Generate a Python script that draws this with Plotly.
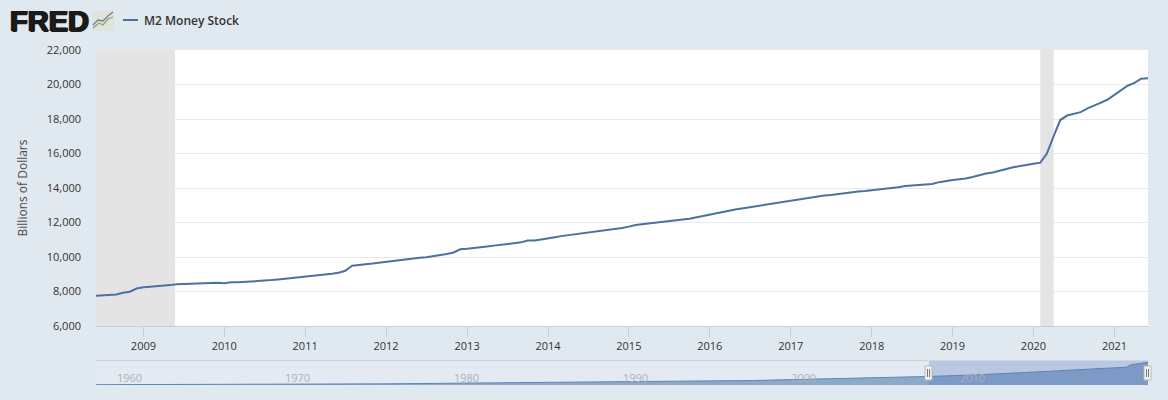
import plotly.graph_objects as go
import pandas as pd

W, H = 1168, 400
SERIES_NAME = "M2 Money Stock"
Y_TITLE = "Billions of Dollars"

m2_2008 = [7750, 7775, 7785, 7830, 7930, 7990, 8170]
m2_2009 = [8250, 8280, 8300, 8350, 8370, 8420, 8440, 8450, 8465, 8510, 8520, 8510]
m2_2010 = [8480, 8530, 8530, 8550, 8600, 8615, 8625, 8660, 8695, 8735, 8765, 8790]
m2_2011 = [8840, 8880, 8930, 8980, 9030, 9090, 9200, 9490, 9550, 9580, 9620, 9670]
m2_2012 = [9740, 9790, 9830, 9880, 9910, 9960, 9990, 10040, 10100, 10170, 10260, 10450]
m2_2013 = [10480, 10510, 10580, 10610, 10660, 10700, 10750, 10800, 10850, 10960, 10950, 11010]
m2_2014 = [11060, 11150, 11210, 11260, 11320, 11380, 11430, 11470, 11510, 11570, 11600, 11680]
m2_2015 = [11760, 11860, 11900, 11940, 11980, 12030, 12080, 12130, 12180, 12220, 12300, 12370]
m2_2016 = [12490, 12560, 12630, 12700, 12770, 12830, 12890, 12960, 13020, 13090, 13150, 13210]
m2_2017 = [13250, 13320, 13400, 13470, 13520, 13560, 13590, 13650, 13700, 13740, 13790, 13820]
m2_2018 = [13860, 13890, 13950, 13990, 14040, 14110, 14150, 14190, 14210, 14230, 14340, 14410]
m2_2019 = [14460, 14510, 14550, 14640, 14760, 14840, 14900, 14980, 15100, 15200, 15280, 15350]
m2_2020 = [15400, 15470, 15980, 17000, 17940, 18200, 18300, 18400, 18620, 18770, 18950, 19130]
m2_2021 = [19400, 19680, 19930, 20090, 20340, 20360]

# January readings of the long history shown in the navigator strip
nav_years = list(range(1959, 2008))
nav_values = [287, 298, 312, 335, 363, 393, 425, 459, 481, 525, 567, 587, 628, 710, 802, 856, 908,
              1024, 1152, 1270, 1367, 1480, 1600, 1765, 1910, 2127, 2310, 2497, 2735, 2832, 2993,
              3160, 3280, 3380, 3410, 3450, 3490, 3640, 3830, 4040, 4380, 4660, 4940, 5460, 5800,
              6060, 6410, 6680, 7070]
nav_2008_head = [7470, 7520, 7570, 7630, 7690]

y_ticks = [6000, 8000, 10000, 12000, 14000, 16000, 18000, 20000, 22000]
x_tick_years = list(range(2009, 2022))
nav_tick_years = [1960, 1970, 1980, 1990, 2000, 2010]
recessions = [("2007-12-01", "2009-05-24"), ("2020-02-01", "2020-04-01")]

m2 = (m2_2008 + m2_2009 + m2_2010 + m2_2011 + m2_2012 + m2_2013 + m2_2014 + m2_2015 +
      m2_2016 + m2_2017 + m2_2018 + m2_2019 + m2_2020 + m2_2021)
dates = pd.date_range("2008-06-01", periods=len(m2), freq="MS")
start, end = dates[0], dates[-1]
nav_dates = ([f"{y}-01-01" for y in nav_years] +
             [d.strftime("%Y-%m-%d") for d in pd.date_range("2008-01-01", "2008-05-01", freq="MS")] +
             [d.strftime("%Y-%m-%d") for d in dates])
nav_y = nav_values + nav_2008_head + m2

BG = "#e1e9f0"
LINE = "#4a719f"
px = lambda x: x / W
py = lambda y: 1 - y / H
DOM_X = [px(96), px(1148)]

fig = go.Figure()
fig.add_trace(go.Scatter(x=dates, y=m2, mode="lines", name=SERIES_NAME,
                         line=dict(color=LINE, width=2), showlegend=False,
                         xaxis="x", yaxis="y"))
fig.add_trace(go.Scatter(x=nav_dates, y=nav_y, mode="lines", fill="tozeroy", name=SERIES_NAME + " (navigator)",
                         fillcolor="rgba(69,114,167,0.55)", line=dict(color="#5f86b4", width=1),
                         showlegend=False, xaxis="x2", yaxis="y2", hoverinfo="skip"))

font = "Open Sans, Noto Sans, sans-serif"
fig.update_layout(
    width=W, height=H, autosize=False,
    margin=dict(l=0, r=0, t=0, b=0, autoexpand=False),
    paper_bgcolor=BG, plot_bgcolor="#ffffff",
    font=dict(family=font, size=11, color="#333333"),
    showlegend=False,
    xaxis=dict(domain=DOM_X, range=[start, end], type="date",
               tickvals=[f"{y}-01-01" for y in x_tick_years], ticktext=[str(y) for y in x_tick_years],
               showgrid=False, zeroline=False, ticks="outside", ticklen=10, tickcolor="#c0d0e0",
               tickwidth=1, showline=True, linecolor="#c0d0e0", linewidth=1, anchor="y",
               tickfont=dict(size=11, color="#333333")),
    yaxis=dict(domain=[py(326), py(50)], range=[6000, 22000], tickvals=y_ticks,
               tickformat=",d", showgrid=True, gridcolor="#e9e9e9", gridwidth=1, zeroline=False,
               ticks="", showline=False, anchor="x", ticklabelstandoff=14,
               title=dict(text=Y_TITLE, font=dict(size=12, color="#4d4d4d"), standoff=16),
               tickfont=dict(size=11, color="#333333")),
    xaxis2=dict(domain=DOM_X, range=["1959-01-01", end], type="date",
                showgrid=False, zeroline=False, showline=False, ticks="", anchor="y2",
                showticklabels=False, fixedrange=True),
    yaxis2=dict(domain=[py(385), py(361)], range=[0, 21500], showgrid=False, zeroline=False,
                showticklabels=False, ticks="", anchor="x2", fixedrange=True),
    hovermode=False,
)

shapes = []
for a, b in recessions:
    shapes.append(dict(type="rect", xref="x", yref="y", x0=max(a, start.strftime("%Y-%m-%d")), x1=b,
                       y0=6000, y1=22000, fillcolor="#e4e4e4", line_width=0, layer="between"))
# navigator background, frame, mask over selected window, handles
shapes.append(dict(type="rect", xref="x2", yref="paper", x0="1959-01-01", x1=end, y0=py(385), y1=py(361),
                   fillcolor="#e3eaf1", line_width=0, layer="between"))
shapes.append(dict(type="line", xref="paper", yref="paper", x0=px(96), x1=px(928), y0=py(360.5), y1=py(360.5),
                   line=dict(color="#c8d2dc", width=1)))
shapes.append(dict(type="rect", xref="x2", yref="paper", x0=start, x1=end, y0=py(385), y1=py(360.5),
                   fillcolor="rgba(90,120,190,0.30)", line_width=0, layer="above"))
for hx in (928.5, 1147.5):
    shapes.append(dict(type="rect", xref="paper", yref="paper", x0=px(hx - 3.5), x1=px(hx + 3.5),
                       y0=py(380), y1=py(366), fillcolor="#f4f4f4", line=dict(color="#b8b8b8", width=1)))
    for d in (-1, 1):
        shapes.append(dict(type="line", xref="paper", yref="paper", x0=px(hx + d), x1=px(hx + d),
                           y0=py(377), y1=py(369), line=dict(color="#777777", width=1)))
# legend key
shapes.append(dict(type="line", xref="paper", yref="paper", x0=px(123), x1=px(138), y0=py(20), y1=py(20),
                   line=dict(color=LINE, width=2)))


def logo_path(pts):
    return "M" + " L".join(f"{px(x):.5f},{py(y):.5f}" for x, y in pts)


# small chart icon next to the FRED wordmark
shapes.append(dict(type="rect", xref="paper", yref="paper", x0=px(92), x1=px(114), y0=py(31), y1=py(11),
                   fillcolor="#dfe3da", line_width=0))
shapes.append(dict(type="path", xref="paper", yref="paper", path=logo_path([(93, 28), (99, 23), (103, 25), (108, 19), (113, 17)]),
                   line=dict(color="#86a87c", width=1.3)))
shapes.append(dict(type="path", xref="paper", yref="paper", path=logo_path([(93, 25), (98, 20), (103, 21), (108, 16), (113, 12)]),
                   line=dict(color="#6f808e", width=1.3)))
fig.update_layout(shapes=shapes)

annotations = [
    dict(text="<b>FRED</b>", xref="paper", yref="paper", x=px(8), y=py(21), xanchor="left", yanchor="middle",
         showarrow=False, font=dict(family="Liberation Sans, Arial, sans-serif", size=29, color="#1a1a1a",
                                    shadow="1px 0 0 #1a1a1a, -1px 0 0 #1a1a1a, 0.5px 0.5px 0 #1a1a1a")),
    dict(text=SERIES_NAME, xref="paper", yref="paper", x=px(144), y=py(20), xanchor="left", yanchor="middle",
         showarrow=False, xshift=-2, font=dict(family=font, size=12, color="#333333", weight=600)),
]
for y in nav_tick_years:
    annotations.append(dict(text=str(y), xref="x2", yref="paper", x=f"{y}-01-01", y=py(377), xanchor="left",
                            xshift=2, yanchor="middle", showarrow=False,
                            font=dict(size=11, color="#a9b3bc")))
fig.update_layout(annotations=annotations)

fig.write_html("out.html", config=dict(displayModeBar=False),
               post_script="document.body.style.margin='0';document.documentElement.style.overflow='hidden';")
